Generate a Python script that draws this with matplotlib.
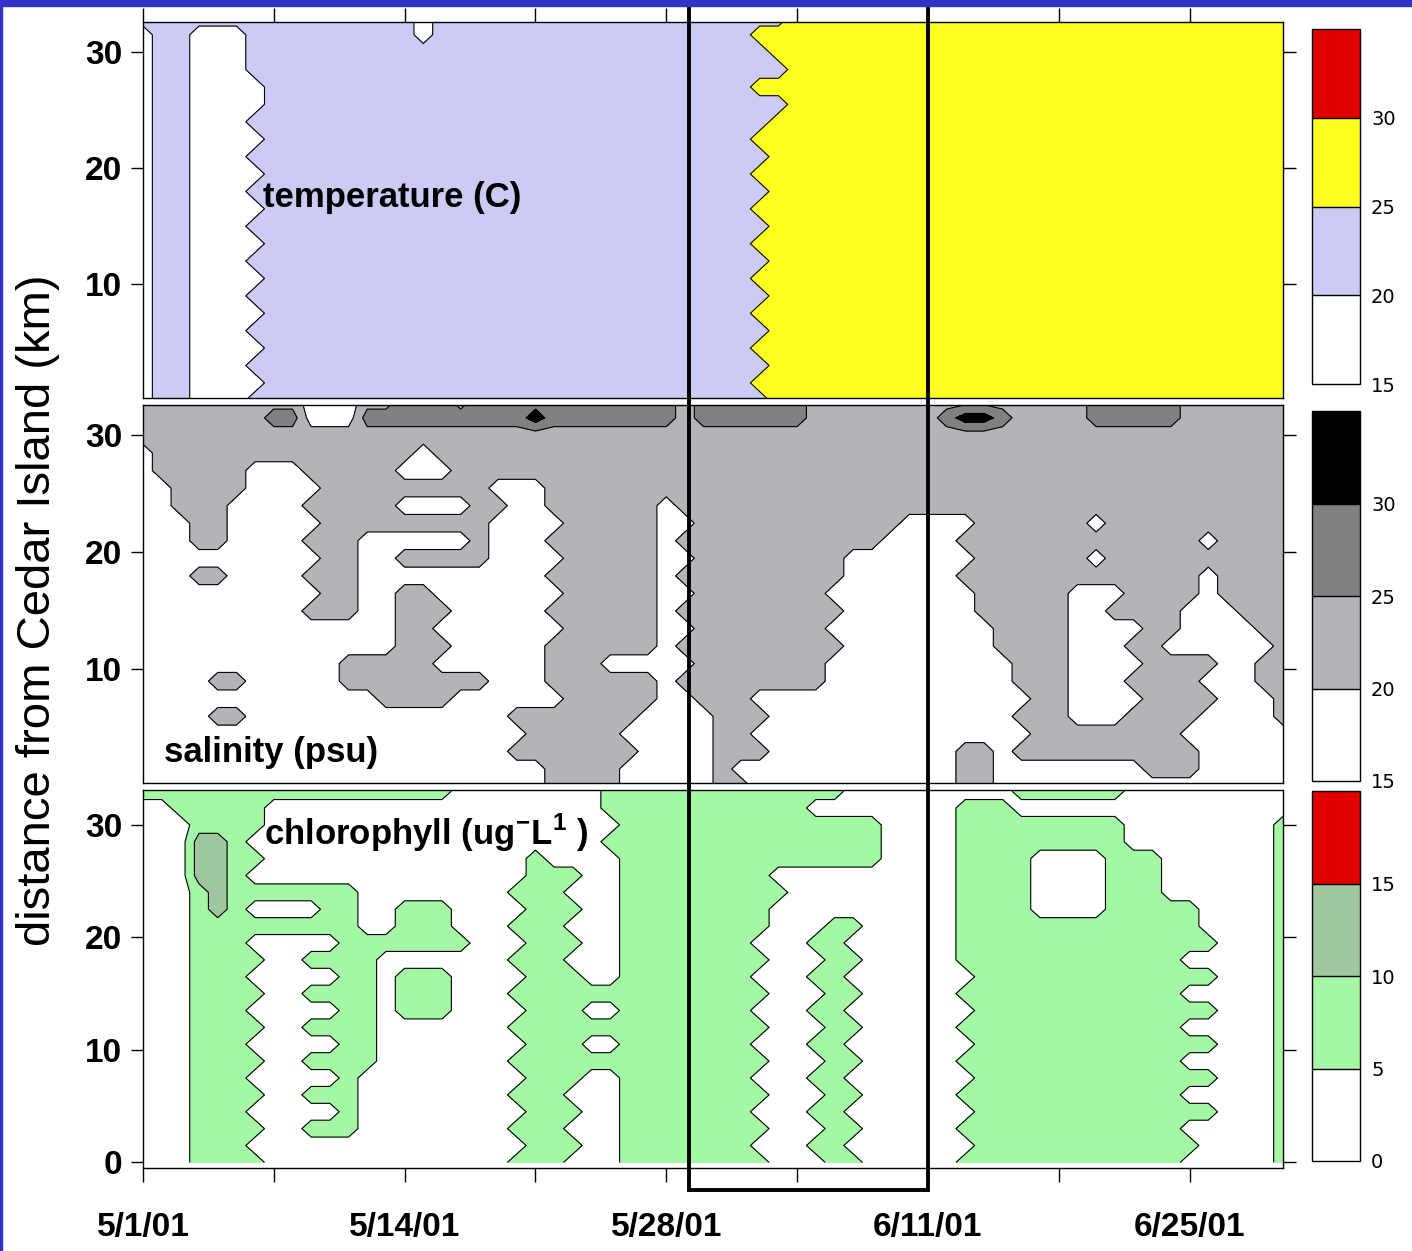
import numpy as np
import matplotlib
matplotlib.use('Agg')
import matplotlib.pyplot as plt
import matplotlib.transforms as mtransforms
from matplotlib.patches import Rectangle

plt.rcParams['font.family'] = ['Liberation Sans', 'DejaVu Sans']
plt.rcParams['mathtext.fontset'] = 'custom'
plt.rcParams['mathtext.rm'] = 'Liberation Sans:bold'
plt.rcParams['mathtext.bf'] = 'Liberation Sans:bold'

# grid of the section: day since 5/1/01 (columns) and km from Cedar Island (rows, top->bottom)
days = np.arange(62)
dist = np.arange(33, -0.1, -1.5)

date_ticks = [0, 14, 28, 42, 56]
date_minor = [7, 21, 35, 49]
date_labels = ['5/1/01', '5/14/01', '5/28/01', '6/11/01', '6/25/01']

# temperature (C): class codes 0..3 -> 15-20, 20-25, 25-30, 30-35
temp_levels = [15, 20, 25, 30, 35]
temp_mid = [17.5, 22.5, 27.5, 32.5]
temp_colors = ['#ffffff', '#cbcbf5', '#ffff20', '#e00000']
temp_rows = [
    "1111111111 1111101111 1111111111 1111122222 2222222222 2222222222 22",
    "0110001111 1111101111 1111111111 1112222222 2222222222 2222222222 22",
    "0110001111 1111111111 1111111111 1111222222 2222222222 2222222222 22",
    "0110001111 1111111111 1111111111 1111122222 2222222222 2222222222 22",
    "0110000111 1111111111 1111111111 1112222222 2222222222 2222222222 22",
    "0110000111 1111111111 1111111111 1111122222 2222222222 2222222222 22",
    "0110001111 1111111111 1111111111 1111222222 2222222222 2222222222 22",
    "0110000111 1111111111 1111111111 1112222222 2222222222 2222222222 22",
    "0110001111 1111111111 1111111111 1111222222 2222222222 2222222222 22",
    "0110000111 1111111111 1111111111 1112222222 2222222222 2222222222 22",
    "0110001111 1111111111 1111111111 1111222222 2222222222 2222222222 22",
    "0110000111 1111111111 1111111111 1112222222 2222222222 2222222222 22",
    "0110001111 1111111111 1111111111 1111222222 2222222222 2222222222 22",
    "0110000111 1111111111 1111111111 1112222222 2222222222 2222222222 22",
    "0110001111 1111111111 1111111111 1111222222 2222222222 2222222222 22",
    "0110000111 1111111111 1111111111 1112222222 2222222222 2222222222 22",
    "0110001111 1111111111 1111111111 1111222222 2222222222 2222222222 22",
    "0110000111 1111111111 1111111111 1112222222 2222222222 2222222222 22",
    "0110001111 1111111111 1111111111 1111222222 2222222222 2222222222 22",
    "0110000111 1111111111 1111111111 1112222222 2222222222 2222222222 22",
    "0110001111 1111111111 1111111111 1111222222 2222222222 2222222222 22",
    "0110000111 1111111111 1111111111 1112222222 2222222222 2222222222 22",
    "0110001111 1111111111 1111111111 1111222222 2222222222 2222222222 22",
]

# salinity (psu): codes 0..3 -> 15-20, 20-25, 25-30, 30-35
sal_levels = [15, 20, 25, 30, 35]
sal_mid = [17.5, 22.5, 27.5, 32.5]
sal_colors = ['#ffffff', '#b4b4b8', '#808080', '#000000']
sal_rows = [
    "1111111110 0011222122 2222222221 2222221111 1111111111 1222221111 11",
    "1111111220 0022222222 2322222221 2222221111 1112332111 1222221111 11",
    "1111111111 1111111111 1111111111 1111111111 1111111111 1111111111 11",
    "0111111111 1111101111 1111111111 1111111111 1111111111 1111111111 11",
    "0111110001 1111000111 1111111111 1111111111 1111111111 1111111111 11",
    "0011110000 1111111110 0011111111 1111111111 1111111111 1111111111 11",
    "0011100001 1111000011 0011111101 1111111111 1111111111 1111111111 11",
    "0001100000 1111111110 0001111100 1111111111 1000011111 1011111111 11",
    "0001100001 1100000010 0011111101 1111111111 0000111111 1111111011 11",
    "0000000000 1100111110 0001111100 1111111100 0000011111 1011111111 11",
    "0001100001 1100000000 0011111101 1111111100 0000111111 1111111011 11",
    "0000000000 1100110000 0001111100 1111111000 0000011111 0001111011 11",
    "0000000001 1100111000 0011111101 1111111100 0000011111 0011110001 11",
    "0000000000 0000110000 0001111100 1111111000 0000001111 0000110000 11",
    "0000000000 0000111000 0011111101 1111111100 0000001111 0001100000 01",
    "0000000000 0111110000 0011100000 1111111000 0000000111 0000111100 11",
    "0000110000 0111111110 0011111101 1111111000 0000000111 0001111000 11",
    "0000000000 0001111000 0001111100 1110000000 0000000011 0000111100 01",
    "0000110000 0000000000 1111111000 0111000000 0000000111 0001111000 01",
    "0000000000 0000000000 0111110000 0110000000 0000000011 1111110000 00",
    "0000000000 0000000000 1111111000 0111000000 0000110111 1111111000 00",
    "0000000000 0000000000 0011110000 0100000000 0000110000 0000111000 00",
    "0000000000 0000000000 0011110000 0110000000 0000110000 0000000000 00",
]

# chlorophyll (ug/L): codes 0..3 -> 0-5, 5-10, 10-15, 15-20
chl_levels = [0, 5, 10, 15, 20]
chl_mid = [2.5, 7.5, 12.5, 17.5]
chl_colors = ['#ffffff', '#a4f7a4', '#a0c8a0', '#e00000']
chl_rows = [
    "1111111111 1111111000 0000011111 1111111100 0000000111 1110000000 00",
    "0011111000 0000000000 0000011111 1111110000 0000111000 0000000000 00",
    "0001111000 0000000000 0000001111 1111111111 0000111111 1110000000 01",
    "0002210000 0000000000 0000011111 1111111111 0000111111 1110000000 01",
    "0002211000 0000000000 0100001111 1111111111 0000111100 0011100000 01",
    "0002210000 0000000000 0111001111 1111000000 0000111100 0011100000 01",
    "0001211111 1100000000 1110001111 1111100000 0000111100 0011100000 01",
    "0001210000 1100111000 0111001111 1111000000 0000111100 0011111000 01",
    "0001111111 1100111000 1110001111 1111000110 0000111111 1111111000 01",
    "0001110000 0111111100 0111001111 1110001100 0000111111 1111111100 01",
    "0001111001 1110000000 1110001111 1111000110 0000111111 1111110000 01",
    "0001110000 0110111000 0111001111 1110001100 0000011111 1111111100 01",
    "0001111001 1110111000 1111111111 1111000110 0000111111 1111110000 01",
    "0001110000 0110111000 0111001111 1110001100 0000011111 1111111100 01",
    "0001111001 1110000000 1111111111 1111000110 0000111111 1111110000 01",
    "0001110000 0110000000 0111001111 1110001100 0000011111 1111111100 01",
    "0001111001 1110000000 1111111111 1111000110 0000111111 1111110000 01",
    "0001110000 0100000000 0111001111 1110001100 0000011111 1111111100 01",
    "0001111001 1100000000 1110001111 1111000110 0000111111 1111110000 01",
    "0001110000 0100000000 0111001111 1110001100 0000011111 1111111100 01",
    "0001111001 1100000000 1110001111 1111000110 0000111111 1111110000 01",
    "0001110000 0000000000 0111001111 1110001100 0000011111 1111111000 01",
    "0001111000 0000000000 1110001111 1111000110 0000111111 1111110000 01",
]


def to_grid(rows, mids):
    codes = np.array([[int(c) for c in r.replace(' ', '')] for r in rows])
    return np.array(mids)[codes]


W, H = 1412, 1251
fig = plt.figure(figsize=(W / 100, H / 100), dpi=100)

def fx(px):
    return px / W

def fy(py):
    return 1 - py / H

panels = [
    # data rows, mids, levels, colors, axes top/bottom px, ylim, cbar top/bottom px
    (temp_rows, temp_mid, temp_levels, temp_colors, 22, 398, (0.2, 32.6), 29, 384),
    (sal_rows, sal_mid, sal_levels, sal_colors, 405, 783, (0.3, 32.6), 411, 781),
    (chl_rows, chl_mid, chl_levels, chl_colors, 790, 1168, (-0.5, 33.1), 791, 1161),
]

axes = []
for i, (rows, mids, levels, colors, top, bot, ylim, ctop, cbot) in enumerate(panels):
    ax = fig.add_axes([fx(143), fy(bot), fx(1283) - fx(143), fy(top) - fy(bot)])
    z = to_grid(rows, mids)
    cf = ax.contourf(days, dist, z, levels=levels, colors=colors)
    ax.contour(days, dist, z, levels=levels[1:-1], colors='k', linewidths=0.8)
    ax.set_xlim(0, 61)
    ax.set_ylim(*ylim)

    ax.set_yticks([0, 10, 20, 30] if i == 2 else [10, 20, 30])
    ax.tick_params(axis='y', direction='out', length=9, width=1, left=True,
                   right=True, labelsize=24, pad=6)
    for t in ax.get_yticklabels():
        t.set_fontweight('bold')

    ax.set_xticks(date_ticks)
    ax.set_xticks(date_minor, minor=True)
    if i == 2:
        ax.set_xticklabels(date_labels, fontsize=24, fontweight='bold')
        ax.tick_params(axis='x', which='both', direction='out', length=10,
                       width=1, pad=22)
    elif i == 0:
        ax.tick_params(axis='x', which='both', direction='out', length=10,
                       width=1, top=True, bottom=False, labelbottom=False)
    else:
        ax.tick_params(axis='x', which='both', length=0, labelbottom=False)
    for s in ax.spines.values():
        s.set_linewidth(1)

    cax = fig.add_axes([fx(1312), fy(cbot), fx(1360) - fx(1312), fy(ctop) - fy(cbot)])
    cb = fig.colorbar(cf, cax=cax, ticks=levels[:-1], drawedges=True)
    cb.outline.set_linewidth(1)
    cb.dividers.set_linewidth(1)
    cax.tick_params(length=0, labelsize=14, pad=8)
    for t in cax.get_yticklabels():
        t.set_fontfamily('DejaVu Sans')
    axes.append(ax)

ax1, ax2, ax3 = axes
ax1.text(6.4, 17.5, 'temperature (C)', fontsize=25, fontweight='bold', va='center')
ax2.text(1.1, 2.9, 'salinity (psu)', fontsize=25, fontweight='bold', va='center')
ax3.text(6.5, 29.3, r'chlorophyll (ug$^{-}$L$^{1}$ )', fontsize=25,
         fontweight='bold', va='center')

fig.text(fx(38), fy(610), 'distance from Cedar Island (km)', rotation=90,
         ha='center', va='center', fontsize=34)

# highlight box around late May - early June
trans = mtransforms.blended_transform_factory(ax3.transData, fig.transFigure)
fig.patches.append(Rectangle((29.2, fy(1190)), 12.8, fy(5) - fy(1190),
                             transform=trans, fill=False, edgecolor='k',
                             linewidth=2.8, zorder=10))

# slide frame
fig.patches.append(Rectangle((0, fy(6)), 1, fy(0) - fy(6), transform=fig.transFigure,
                             color='#3232c8', zorder=11))
fig.patches.append(Rectangle((0, 0), fx(2), 1, transform=fig.transFigure,
                             color='#3232c8', zorder=11))

fig.savefig('out.png', dpi=100)
